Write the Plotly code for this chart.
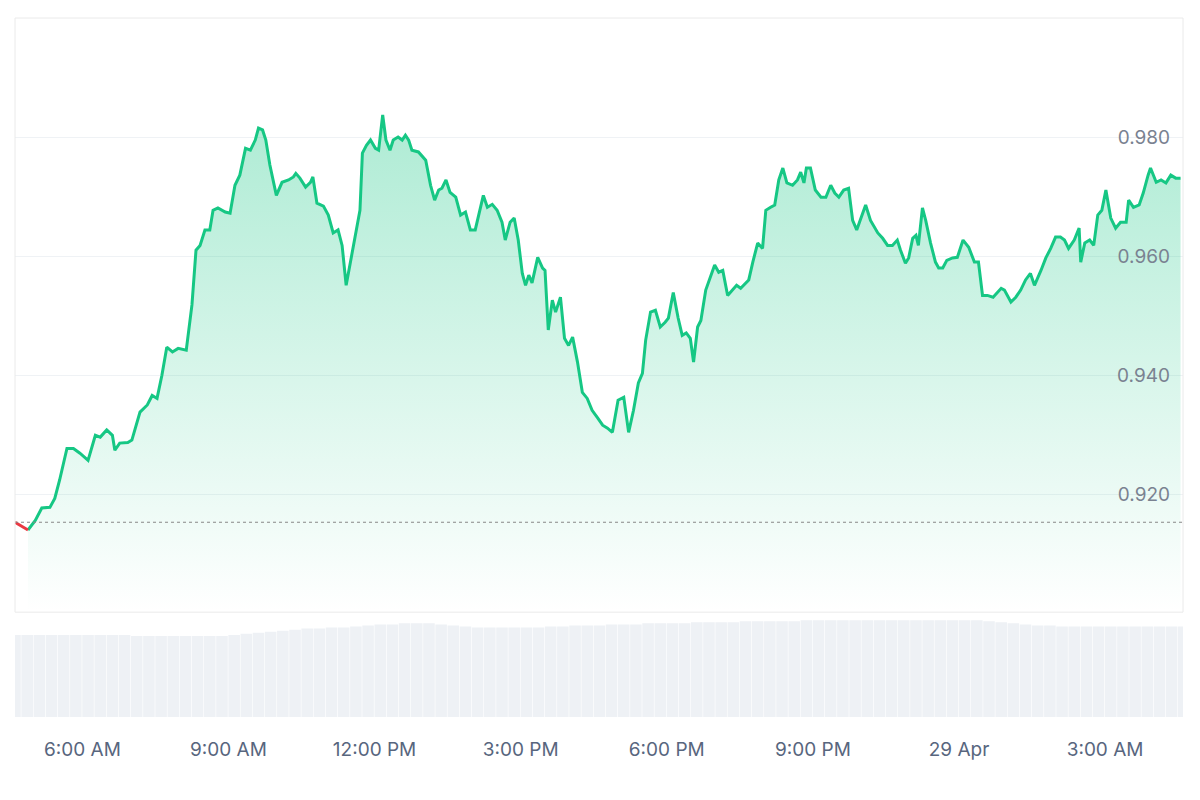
import plotly.graph_objects as go
import pandas as pd

start = pd.Timestamp("2024-04-28 04:37")
minutes = [0,9,16,25,33,43,49,55,64,72,80,90,99,105,113,120,123,129,139,144,154,163,169,175,181,187,194,201,211,218,223,228,234,240,244,250,259,265,271,277,284,290,296,300,305,309,314,322,329,337,343,346,351,358,364,367,372,380,386,392,398,403,408,413,419,425,428,433,438,444,448,453,457,462,466,472,477,481,485,489,497,506,512,517,522,526,531,536,543,549,555,561,567,573,577,582,588,594,600,604,610,615,620,625,629,633,637,644,650,653,657,662,666,672,677,682,687,693,699,705,711,718,724,730,736,743,750,756,762,768,773,777,783,789,795,801,805,811,817,822,827,832,836,841,845,851,857,862,867,872,878,884,889,894,900,904,909,915,921,925,931,936,941,946,951,958,964,968,972,975,980,986,993,999,1005,1010,1015,1021,1027,1032,1037,1042,1048,1054,1063,1069,1075,1081,1087,1091,1097,1101,1106,1110,1113,1118,1122,1128,1134,1138,1143,1148,1155,1161,1168,1175,1182,1187,1192,1198,1205,1215,1219,1227,1233,1239,1245,1251,1256,1264,1270,1276,1282,1288,1293,1298,1305,1311,1313,1318,1324,1329,1334,1339,1344,1350,1356,1362,1369,1372,1378,1385,1390,1396,1399,1406,1412,1418,1424,1430,1436]
prices = [.9153,.9145,.9140,.9156,.9177,.9178,.9193,.9224,.9277,.9277,.9269,.9257,.9299,.9296,.9308,.9299,.9274,.9286,.9287,.9291,.9338,.9350,.9366,.9361,.9400,.9447,.9439,.9445,.9442,.9518,.9610,.9618,.9644,.9644,.9677,.9681,.9674,.9672,.9719,.9736,.9781,.9778,.9795,.9815,.9812,.9795,.9753,.9702,.9724,.9728,.9733,.9739,.9731,.9716,.9724,.9733,.9689,.9684,.9669,.9639,.9644,.9618,.9551,.9588,.9627,.9677,.9773,.9786,.9795,.9781,.9778,.9837,.9795,.9778,.9795,.9800,.9795,.9803,.9795,.9778,.9775,.9761,.9719,.9694,.9711,.9714,.9728,.9707,.9699,.9669,.9674,.9644,.9644,.9677,.9702,.9682,.9687,.9677,.9657,.9627,.9657,.9664,.9627,.9571,.9551,.9568,.9555,.9598,.9580,.9576,.9476,.9526,.9506,.9531,.9462,.9450,.9464,.9422,.9371,.9361,.9341,.9328,.9316,.9311,.9304,.9358,.9363,.9304,.9341,.9387,.9403,.9459,.9506,.9509,.9481,.9489,.9496,.9539,.9496,.9467,.9471,.9462,.9422,.9481,.9492,.9543,.9565,.9585,.9573,.9576,.9534,.9543,.9551,.9546,.9555,.9560,.9590,.9622,.9613,.9677,.9682,.9686,.9728,.9748,.9723,.9719,.9728,.9741,.9723,.9748,.9748,.9711,.9699,.9699,.9719,.9706,.9699,.9711,.9714,.9660,.9644,.9664,.9686,.9660,.9639,.9630,.9618,.9618,.9627,.9610,.9588,.9597,.9630,.9635,.9618,.9681,.9660,.9622,.9590,.9580,.9580,.9593,.9597,.9598,.9627,.9615,.9590,.9590,.9534,.9534,.9531,.9546,.9543,.9523,.9531,.9543,.9560,.9571,.9551,.9576,.9597,.9613,.9632,.9632,.9627,.9613,.9627,.9647,.9590,.9622,.9627,.9618,.9669,.9677,.9711,.9664,.9647,.9657,.9657,.9694,.9682,.9686,.9706,.9736,.9748,.9724,.9728,.9723,.9736,.9731,.9731,.9736,.9724,.9714]
n = min(len(minutes), len(prices))
minutes, prices = minutes[:n], prices[:n]
times = [start + pd.Timedelta(minutes=m) for m in minutes]

vol_minutes = list(range(0, 1441, 15))
volumes = [78,78,78,78,78,78,78,78,78,78,77,77,77,77,77,77,77,77,78,79,80,81,82,83,84,84,85,85,86,87,88,88,89,89,89,88,87,86,85,85,85,85,85,85,86,86,87,87,87,88,88,88,89,89,89,89,90,90,90,90,91,91,91,91,91,92,92,92,92,92,92,92,92,92,92,92,92,92,92,92,91,90,89,88,87,87,86,86,86,86,86,86,86,86,86,86,86][:len(vol_minutes)]
vol_times = [start + pd.Timedelta(minutes=m) for m in vol_minutes[:len(volumes)]]

tick_vals = [pd.Timestamp(s) for s in ["2024-04-28 06:00","2024-04-28 09:00","2024-04-28 12:00","2024-04-28 15:00","2024-04-28 18:00","2024-04-28 21:00","2024-04-29 00:00","2024-04-29 03:00"]]
tick_text = ["6:00 AM","9:00 AM","12:00 PM","3:00 PM","6:00 PM","9:00 PM","29 Apr","3:00 AM"]
y_ticks = [0.92, 0.94, 0.96, 0.98]
y_min, y_max = 0.9002, 1.0

base = prices[0]
k = next(i for i in range(1, n) if prices[i] > base)

fig = go.Figure()
fig.add_trace(go.Scatter(x=times[k-1:], y=[y_min]*(n-k+1), mode="lines", line=dict(width=0), showlegend=False, hoverinfo="skip"))
fig.add_trace(go.Scatter(x=times[k-1:], y=prices[k-1:], mode="lines", line=dict(color="#16c784", width=3),
                         fill="tonexty", fillgradient=dict(type="vertical",
                         colorscale=[[0, "rgba(22,199,132,0.0)"], [1, "rgba(22,199,132,0.35)"]]),
                         showlegend=False, hoverinfo="skip"))
fig.add_trace(go.Scatter(x=times[:k], y=prices[:k], mode="lines", line=dict(color="#ea3943", width=3),
                         showlegend=False, hoverinfo="skip"))
fig.add_trace(go.Bar(x=vol_times, y=volumes, marker=dict(color="#eef1f5", line=dict(width=0)),
                     xaxis="x", yaxis="y2", showlegend=False, hoverinfo="skip"))

fig.add_shape(type="line", xref="paper", x0=0, x1=1, yref="y", y0=base, y1=base,
              line=dict(color="#888", width=1.2, dash="dot"))
fig.add_shape(type="rect", xref="paper", yref="paper", x0=0, x1=1, y0=0.15, y1=1,
              line=dict(color="#eaeaea", width=1))

fig.update_layout(
    width=1200, height=800, margin=dict(l=7, r=25, t=10, b=91, autoexpand=False),
    paper_bgcolor="white", plot_bgcolor="white", bargap=0.05,
    font=dict(family="Inter, Roboto, sans-serif", color="#58667e"),
    xaxis=dict(range=[times[0], times[-1] + pd.Timedelta(minutes=3)], tickvals=tick_vals, ticktext=tick_text,
               showgrid=False, zeroline=False, tickfont=dict(size=19, color="#58667e"), ticks="",
               anchor="y2", ticklabelstandoff=19),
    yaxis=dict(domain=[0.15, 1], range=[y_min, y_max], side="right", tickvals=y_ticks,
               tickformat=".3f", ticklabelposition="inside", gridcolor="#eff2f5",
               tickfont=dict(size=19, color="#7a8291"), zeroline=False, ticklabelstandoff=10),
    yaxis2=dict(domain=[0, 0.14], range=[0, 93], visible=False),
)
fig.write_html("out.html")
